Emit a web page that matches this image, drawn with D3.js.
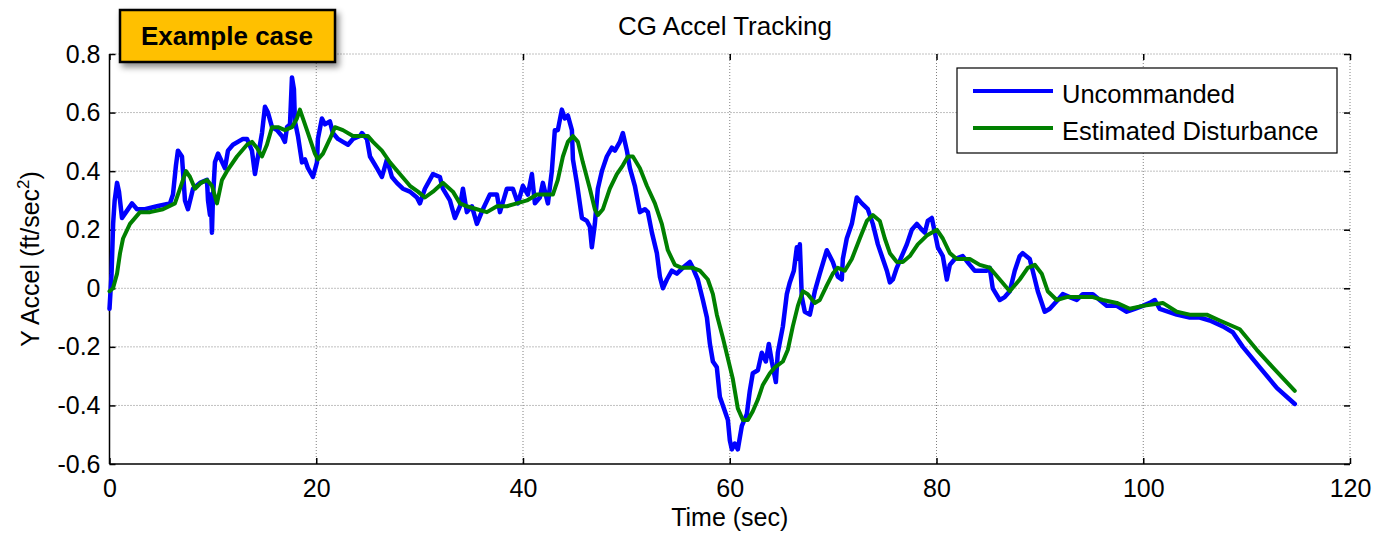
<!DOCTYPE html>
<html>
<head>
<meta charset="utf-8">
<script src="https://cdn.jsdelivr.net/npm/d3@7"></script>
<style>
  html, body { margin: 0; padding: 0; background: #fff; }
  svg { display: block; font-family: "Liberation Sans", Arial, sans-serif; }
</style>
</head>
<body>
<div id="chart"></div>
<script>
// time (sec) and Y accel (ft/sec^2)
const uncommandedTime = [0, 0.2, 0.35, 0.5, 0.73, 0.92, 1.21, 1.6, 2.18, 2.66, 3.43, 4.59, 5.85, 6.14, 6.43, 6.62, 7.01, 7.3, 7.59, 8.08, 8.75, 9.43, 9.53, 9.72, 9.8, 9.91, 10.0, 10.2, 10.5, 10.9, 11.17, 11.46, 11.94, 12.91, 13.3, 13.78, 14.07, 14.36, 14.75, 15.04, 15.33, 15.72, 16.2, 16.68, 16.97, 17.17, 17.46, 17.65, 17.84, 17.94, 18.23, 18.62, 18.91, 19.2, 19.68, 20.07, 20.16, 20.55, 20.84, 21.32, 21.61, 22.1, 22.58, 23.07, 23.55, 24.23, 24.42, 24.9, 25.2, 25.87, 26.35, 26.84, 27.32, 27.8, 28.38, 29.06, 29.74, 30.03, 30.51, 31.29, 31.96, 32.25, 32.93, 33.41, 33.9, 34.19, 34.57, 35.06, 35.54, 36.12, 36.8, 37.48, 37.77, 38.44, 39.02, 39.51, 39.99, 40.47, 40.86, 41.15, 41.63, 41.92, 42.41, 42.79, 43.08, 43.37, 43.76, 44.05, 44.34, 44.73, 44.83, 45.21, 45.7, 46.18, 46.47, 46.66, 46.95, 47.24, 47.63, 48.11, 48.6, 48.89, 49.37, 49.66, 50.05, 50.34, 50.82, 51.31, 51.79, 52.08, 52.47, 52.95, 53.24, 53.53, 53.92, 54.4, 54.88, 55.46, 56.14, 56.43, 56.91, 57.4, 57.79, 58.08, 58.37, 58.75, 59.04, 59.53, 59.82, 60.01, 60.2, 60.49, 60.78, 61.17, 61.65, 61.94, 62.23, 62.72, 63.1, 63.49, 63.78, 64.07, 64.46, 64.65, 65.14, 65.52, 65.81, 66.2, 66.49, 66.68, 66.78, 66.97, 67.26, 67.75, 68.23, 68.71, 69.39, 69.97, 70.45, 70.84, 70.94, 71.32, 71.81, 72.29, 72.78, 73.36, 73.84, 74.33, 74.81, 75.2, 75.49, 75.78, 76.16, 76.64, 77.13, 77.61, 78.1, 78.58, 78.87, 79.16, 79.55, 79.84, 80.13, 80.61, 81.0, 81.29, 81.77, 82.54, 83.22, 83.7, 84.86, 85.15, 85.44, 86.12, 86.6, 87.09, 87.57, 88.05, 88.34, 89.02, 89.31, 89.8, 90.47, 90.96, 91.73, 92.21, 92.89, 93.57, 94.15, 95.12, 95.79, 96.47, 97.44, 98.4, 99.18, 99.95, 100.63, 101.12, 101.6, 103.24, 104.5, 105.47, 106.44, 107.7, 108.66, 109.63, 111.27, 112.92, 114.66];
const uncommandedValue = [-0.07, 0.05, 0.22, 0.30, 0.36, 0.33, 0.24, 0.26, 0.29, 0.27, 0.27, 0.28, 0.29, 0.32, 0.42, 0.47, 0.45, 0.30, 0.27, 0.34, 0.36, 0.37, 0.30, 0.25, 0.32, 0.19, 0.30, 0.43, 0.46, 0.43, 0.41, 0.47, 0.49, 0.51, 0.51, 0.47, 0.39, 0.45, 0.53, 0.62, 0.60, 0.55, 0.54, 0.52, 0.50, 0.55, 0.56, 0.72, 0.68, 0.57, 0.52, 0.43, 0.44, 0.41, 0.38, 0.43, 0.51, 0.58, 0.56, 0.57, 0.53, 0.51, 0.50, 0.49, 0.51, 0.52, 0.53, 0.51, 0.45, 0.41, 0.38, 0.44, 0.38, 0.36, 0.34, 0.33, 0.31, 0.29, 0.34, 0.39, 0.38, 0.34, 0.30, 0.24, 0.28, 0.34, 0.26, 0.28, 0.22, 0.27, 0.32, 0.32, 0.26, 0.34, 0.34, 0.29, 0.35, 0.32, 0.39, 0.29, 0.31, 0.36, 0.29, 0.40, 0.54, 0.54, 0.61, 0.58, 0.59, 0.54, 0.44, 0.36, 0.24, 0.23, 0.21, 0.14, 0.22, 0.34, 0.40, 0.45, 0.48, 0.47, 0.50, 0.53, 0.47, 0.41, 0.35, 0.26, 0.27, 0.26, 0.19, 0.12, 0.04, 0.00, 0.03, 0.06, 0.05, 0.07, 0.09, 0.07, 0.03, -0.04, -0.10, -0.19, -0.25, -0.27, -0.37, -0.42, -0.45, -0.52, -0.55, -0.53, -0.55, -0.47, -0.43, -0.35, -0.29, -0.28, -0.22, -0.25, -0.19, -0.25, -0.32, -0.22, -0.13, -0.02, 0.02, 0.06, 0.14, 0.10, 0.15, -0.03, -0.08, -0.09, -0.01, 0.05, 0.13, 0.09, 0.04, 0.03, 0.10, 0.17, 0.22, 0.31, 0.29, 0.27, 0.22, 0.15, 0.10, 0.06, 0.02, 0.03, 0.07, 0.11, 0.15, 0.20, 0.22, 0.20, 0.19, 0.23, 0.24, 0.19, 0.14, 0.11, 0.03, 0.08, 0.10, 0.11, 0.08, 0.06, 0.06, 0.07, 0.00, -0.04, -0.03, -0.01, 0.06, 0.11, 0.12, 0.10, 0.06, -0.01, -0.08, -0.07, -0.04, -0.02, -0.03, -0.04, -0.02, -0.02, -0.04, -0.06, -0.06, -0.08, -0.07, -0.06, -0.05, -0.04, -0.07, -0.09, -0.10, -0.10, -0.11, -0.13, -0.15, -0.20, -0.27, -0.34, -0.395];

const disturbanceTime = [0, 0.34, 0.73, 1.02, 1.31, 1.98, 2.95, 3.92, 5.17, 6.33, 6.82, 7.4, 7.79, 8.27, 8.85, 9.43, 9.91, 10.4, 10.88, 11.36, 12.33, 13.3, 13.78, 14.26, 14.75, 15.23, 15.72, 16.3, 16.97, 17.65, 18.13, 18.42, 18.71, 19.2, 19.87, 20.16, 20.65, 21.32, 21.81, 22.58, 23.55, 24.52, 25.0, 25.49, 26.35, 27.13, 28.09, 29.06, 29.84, 30.51, 31.29, 32.25, 33.22, 33.9, 34.57, 35.54, 36.51, 37.48, 38.44, 39.41, 40.38, 41.34, 42.31, 42.89, 43.37, 43.86, 44.34, 44.83, 45.31, 45.79, 46.47, 46.95, 47.24, 47.73, 48.4, 49.08, 49.66, 50.15, 50.63, 51.31, 51.98, 52.76, 53.43, 54.01, 54.69, 55.36, 56.43, 57.11, 57.88, 58.37, 58.75, 59.34, 59.82, 60.3, 60.78, 61.27, 61.75, 62.23, 62.72, 63.2, 63.88, 64.36, 65.14, 65.62, 66.1, 66.59, 67.07, 67.55, 68.23, 68.71, 69.39, 69.97, 70.45, 71.13, 71.81, 72.58, 73.26, 73.84, 74.52, 75.0, 75.49, 76.16, 76.74, 77.42, 78.19, 79.06, 80.03, 80.61, 81.29, 81.96, 83.22, 84.19, 85.15, 86.12, 87.09, 88.05, 88.83, 89.51, 90.18, 90.76, 91.63, 92.6, 93.86, 95.12, 96.09, 97.44, 98.7, 99.95, 101.89, 103.24, 104.5, 106.14, 107.4, 109.34, 110.98, 112.53, 114.66];
const disturbanceValue = [-0.01, 0.00, 0.05, 0.12, 0.17, 0.22, 0.26, 0.26, 0.27, 0.29, 0.34, 0.40, 0.38, 0.34, 0.36, 0.37, 0.35, 0.29, 0.37, 0.40, 0.45, 0.49, 0.50, 0.48, 0.45, 0.49, 0.55, 0.55, 0.54, 0.55, 0.58, 0.61, 0.58, 0.53, 0.46, 0.44, 0.46, 0.51, 0.55, 0.54, 0.52, 0.52, 0.52, 0.50, 0.47, 0.43, 0.39, 0.35, 0.33, 0.31, 0.33, 0.36, 0.33, 0.29, 0.28, 0.27, 0.26, 0.28, 0.28, 0.29, 0.30, 0.32, 0.32, 0.32, 0.37, 0.45, 0.50, 0.52, 0.50, 0.43, 0.34, 0.27, 0.25, 0.27, 0.34, 0.39, 0.42, 0.45, 0.45, 0.41, 0.35, 0.29, 0.22, 0.13, 0.08, 0.07, 0.07, 0.06, 0.03, -0.02, -0.09, -0.17, -0.24, -0.31, -0.41, -0.45, -0.45, -0.42, -0.38, -0.33, -0.29, -0.27, -0.25, -0.21, -0.13, -0.06, -0.01, -0.02, -0.05, -0.04, 0.01, 0.05, 0.07, 0.06, 0.10, 0.17, 0.23, 0.25, 0.23, 0.17, 0.12, 0.09, 0.09, 0.11, 0.15, 0.18, 0.20, 0.17, 0.12, 0.10, 0.10, 0.08, 0.07, 0.03, -0.01, 0.03, 0.07, 0.08, 0.05, -0.01, -0.04, -0.03, -0.03, -0.03, -0.04, -0.05, -0.07, -0.06, -0.05, -0.08, -0.09, -0.09, -0.11, -0.14, -0.21, -0.27, -0.35];

const xTicks = [0, 20, 40, 60, 80, 100, 120];
const yTicks = [-0.6, -0.4, -0.2, 0, 0.2, 0.4, 0.6, 0.8];
const seriesNames = ["Uncommanded", "Estimated Disturbance"];
const seriesColors = ["#0000ff", "#008000"];

(function () {
  const width = 1373;
  const height = 533;
  const margin = { top: 54, right: 23, bottom: 69, left: 109.5 };

  const svg = d3.select("#chart").append("svg")
    .attr("width", width)
    .attr("height", height)
    .attr("viewBox", [0, 0, width, height]);

  svg.append("rect").attr("width", width).attr("height", height).attr("fill", "#fff");

  const defs = svg.append("defs");
  const shadow = defs.append("filter").attr("id", "shadow")
    .attr("x", "-20%").attr("y", "-30%").attr("width", "140%").attr("height", "170%");
  shadow.append("feDropShadow")
    .attr("dx", 3).attr("dy", 4).attr("stdDeviation", 3)
    .attr("flood-color", "#000").attr("flood-opacity", 0.45);

  const x = d3.scaleLinear().domain([0, 120]).range([margin.left, width - margin.right]);
  const y = d3.scaleLinear().domain([-0.6, 0.8]).range([height - margin.bottom, margin.top]);

  // dotted grid
  const grid = svg.append("g").attr("class", "grid")
    .attr("stroke", "#808080").attr("stroke-width", 1).attr("stroke-dasharray", "1,2");
  grid.selectAll(".gx").data(xTicks.filter(d => d > 0)).join("line")
    .attr("x1", d => x(d)).attr("x2", d => x(d))
    .attr("y1", y(0.8)).attr("y2", y(-0.6));
  grid.selectAll(".gy").data(yTicks.filter(d => d > -0.6)).join("line")
    .attr("x1", x(0)).attr("x2", x(120))
    .attr("y1", d => y(d)).attr("y2", d => y(d));

  const tickFmt = d => String(d);

  const xAxis = svg.append("g")
    .attr("transform", `translate(0, ${y(-0.6)})`)
    .call(d3.axisBottom(x).tickValues(xTicks).tickFormat(tickFmt).tickSize(-6).tickPadding(15));
  const yAxis = svg.append("g")
    .attr("transform", `translate(${x(0)}, 0)`)
    .call(d3.axisLeft(y).tickValues(yTicks).tickFormat(tickFmt).tickSize(-6).tickPadding(9));
  // ticks on the top and right edges
  svg.append("g")
    .attr("transform", `translate(0, ${y(0.8)})`)
    .call(d3.axisTop(x).tickValues(xTicks).tickFormat("").tickSize(-6));
  svg.append("g")
    .attr("transform", `translate(${x(120)}, 0)`)
    .call(d3.axisRight(y).tickValues(yTicks).tickFormat("").tickSize(-6));

  svg.selectAll(".domain").remove();
  svg.selectAll(".tick line").attr("stroke", "#000").attr("stroke-width", 1.5);
  [xAxis, yAxis].forEach(a => a.selectAll("text")
    .attr("font-size", "25px").attr("fill", "#000")
    .attr("font-family", "'Liberation Sans', Arial, sans-serif"));

  svg.append("line")
    .attr("x1", x(0)).attr("x2", x(0)).attr("y1", y(0.8)).attr("y2", y(-0.6))
    .attr("stroke", "#000").attr("stroke-width", 1.5);
  svg.append("line")
    .attr("x1", x(0)).attr("x2", x(120)).attr("y1", y(-0.6)).attr("y2", y(-0.6))
    .attr("stroke", "#000").attr("stroke-width", 1.5);

  const line = d3.line().x(d => x(d[0])).y(d => y(d[1]));
  const series = [
    d3.zip(uncommandedTime, uncommandedValue),
    d3.zip(disturbanceTime, disturbanceValue),
  ];

  svg.append("g").selectAll("path").data(series).join("path")
    .attr("d", line)
    .attr("fill", "none")
    .attr("stroke", (d, i) => seriesColors[i])
    .attr("stroke-width", (d, i) => (i === 0 ? 4.5 : 4))
    .attr("stroke-linejoin", "round")
    .attr("stroke-linecap", "round");

  // title and axis labels
  svg.append("text")
    .attr("x", 725).attr("y", 35)
    .attr("text-anchor", "middle")
    .attr("font-size", "26px")
    .text("CG Accel Tracking");

  svg.append("text")
    .attr("x", (x(0) + x(120)) / 2).attr("y", 526)
    .attr("text-anchor", "middle")
    .attr("font-size", "25px")
    .text("Time (sec)");

  const yLabel = svg.append("text")
    .attr("transform", `translate(39, ${(y(0.8) + y(-0.6)) / 2}) rotate(-90)`)
    .attr("text-anchor", "middle")
    .attr("font-size", "25px");
  yLabel.append("tspan").text("Y Accel (ft/sec");
  yLabel.append("tspan").attr("dy", -10).attr("font-size", "17px").text("2");
  yLabel.append("tspan").attr("dy", 10).text(")");

  // legend
  const legend = svg.append("g").attr("transform", "translate(957, 68)");
  legend.append("rect")
    .attr("width", 380).attr("height", 85)
    .attr("fill", "#fff").attr("stroke", "#000").attr("stroke-width", 1.2);
  const items = legend.selectAll(".item").data(seriesNames).join("g")
    .attr("transform", (d, i) => `translate(0, ${23 + i * 37})`);
  items.append("line")
    .attr("x1", 16).attr("x2", 96)
    .attr("stroke", (d, i) => seriesColors[i]).attr("stroke-width", 4);
  items.append("text")
    .attr("x", 105).attr("y", 12)
    .attr("font-size", "25.5px")
    .text(d => d);

  // example case badge
  const badge = svg.append("g").attr("transform", "translate(120, 10)");
  badge.append("rect")
    .attr("width", 215).attr("height", 52)
    .attr("fill", "#ffc000").attr("stroke", "#000").attr("stroke-width", 2.5)
    .attr("filter", "url(#shadow)");
  badge.append("text")
    .attr("x", 107).attr("y", 35)
    .attr("text-anchor", "middle")
    .attr("font-size", "26px").attr("font-weight", "bold")
    .text("Example case");
})();
</script>
</body>
</html>
